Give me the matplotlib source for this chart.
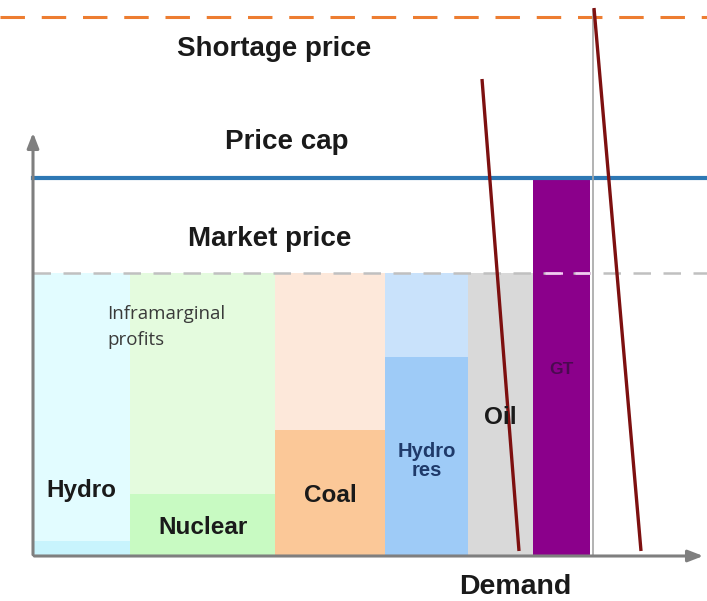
import matplotlib
matplotlib.use("Agg")
import matplotlib.pyplot as plt
import numpy as np

# ---------------- data ----------------
technologies = ["Hydro", "Nuclear", "Coal", "Hydro\nres", "Oil", "GT"]
capacity = [97, 145, 110, 83, 65, 57]            # MW (arbitrary units)
marginal_cost = [15, 62, 126, 199, 283, 378]      # price units
dark_colors = ["#c8f4fd", "#c8fac2", "#fbc898", "#9ecbf7", "#d9d9d9", "#8b008b"]
light_colors = ["#e2fcff", "#e4fbde", "#fde8da", "#c9e2fb", "#d9d9d9", "#8b008b"]
label_colors = ["#1a1a1a", "#1a1a1a", "#1a1a1a", "#1f3a6a", "#1a1a1a", "#4a0a50"]
label_sizes = [17.5, 17.5, 17.5, 14.5, 17.5, 12.5]
label_y = [65, 28, 60, 95, 139, 187]

market_price = 283
price_cap = 378
shortage_price = 539
system_capacity = 560

demand1_x = [449, 486]
demand1_y = [477, 5]
demand2_x = [561, 608]
demand2_y = [548, 5]

# ---------------- figure ----------------
fig = plt.figure(figsize=(7.07, 6.01), dpi=100)
ax = fig.add_axes([0, 0, 1, 1])
ax.set_xlim(-33, 674)
ax.set_ylim(-45, 556)
ax.axis("off")

lefts = np.concatenate([[0], np.cumsum(capacity)[:-1]])
for i, (t, w, c) in enumerate(zip(technologies, capacity, marginal_cost)):
    ax.bar(lefts[i], c, width=w, align="edge", color=dark_colors[i], zorder=2, linewidth=0)
    if c < market_price:
        ax.bar(lefts[i], market_price - c, width=w, bottom=c, align="edge",
               color=light_colors[i], zorder=2, linewidth=0)
    ax.text(lefts[i] + w / 2, label_y[i], t, ha="center", va="center",
            fontsize=label_sizes[i], fontweight="bold", color=label_colors[i],
            family="Liberation Sans", zorder=5, linespacing=1.05)

# price lines
ax.plot([-33, 674], [shortage_price] * 2, color="#ed7d31", lw=2.2,
        dashes=(8, 5.5), zorder=3)
ax.plot([0, 674], [price_cap] * 2, color="#2e78b4", lw=3, zorder=3)
ax.plot([0, 674], [market_price] * 2, color="#c0c0c0", lw=1.8,
        dashes=(7, 5), zorder=3)
gt_left = lefts[-1]
ax.plot([gt_left + 12, gt_left + capacity[-1]], [market_price] * 2, color="#f4c8f4",
        lw=1.8, dashes=(7, 5), zorder=3.5)

# system capacity
ax.plot([system_capacity] * 2, [0, 546], color="#a6a6a6", lw=1.2, zorder=3)

# demand curves
ax.plot(demand1_x, demand1_y, color="#7d1010", lw=2.4, zorder=4, solid_capstyle="butt")
ax.plot(demand2_x, demand2_y, color="#7d1010", lw=2.4, zorder=4, solid_capstyle="butt")

# axes arrows
ax.annotate("", xy=(0, 426), xytext=(0, -1.5),
            arrowprops=dict(arrowstyle="-|>,head_width=0.35,head_length=0.9",
                            color="#7f7f7f", lw=2.2), zorder=6)
ax.annotate("", xy=(673, 0), xytext=(-1.5, 0),
            arrowprops=dict(arrowstyle="-|>,head_width=0.35,head_length=0.9",
                            color="#7f7f7f", lw=2.2), zorder=6)

# texts
bold = dict(fontweight="bold", family="Liberation Sans", color="#1a1a1a",
            ha="center", va="center")
ax.text(241, 507, "Shortage price", fontsize=20, **bold)
ax.text(254, 414, "Price cap", fontsize=20, **bold)
ax.text(237, 317, "Market price", fontsize=20, **bold)
ax.text(482, -31, "Demand", fontsize=20.5, **bold)
ax.text(74, 229, "Inframarginal\nprofits", fontsize=13.5, family="Open Sans",
        color="#3a3a3a", ha="left", va="center", linespacing=1.55, zorder=5)

fig.savefig("out.png", dpi=100)
